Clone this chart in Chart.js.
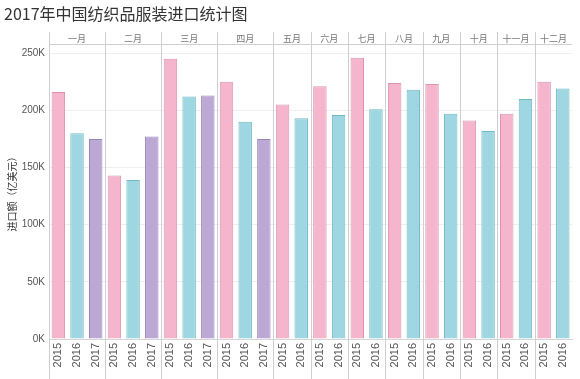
<!DOCTYPE html>
<html>
<head>
<meta charset="utf-8">
<script src="https://cdn.jsdelivr.net/npm/chart.js@4"></script>
<style>
  html, body { margin: 0; padding: 0; background: #fff; }
  #wrap { width: 580px; height: 379px; position: relative; }
</style>
</head>
<body>
<div id="wrap"><canvas id="chart"></canvas></div>
<script>
// data (values in K)
const months = ['一月', '二月', '三月', '四月', '五月', '六月', '七月', '八月', '九月', '十月', '十一月', '十二月'];
const v2015 = [216, 143, 245, 225, 205, 221, 246, 224, 223, 191, 197, 225];
const v2016 = [180, 139, 212, 190, 193, 196, 201, 218, 197, 182, 210, 219];
const v2017 = [175, 177, 213, 175];
const yTicks = [0, 50, 100, 150, 200, 250];

const yearColors = {
    '2015': ['#f5b5cc', '#dc93ae'],
    '2016': ['#9ed7e1', '#72b8c4'],
    '2017': ['#bca8d5', '#9b86ba']
};

// build flat category list
const labels = [];
const values = [];
const groupSizes = [];
months.forEach((m, i) => {
    const yrs = [['2015', v2015[i]], ['2016', v2016[i]]];
    if (i < v2017.length) yrs.push(['2017', v2017[i]]);
    yrs.forEach(y => { labels.push(y[0]); values.push(y[1]); });
    groupSizes.push(yrs.length);
});

const HEADER_TOP = 32;
const HEADER_BOTTOM = 44;

// title, month header and panel dividers
const facetPlugin = {
    id: 'facets',
    afterDraw(chart) {
        const ctx = chart.ctx;
        const xs = chart.scales.x;
        const area = chart.chartArea;
        ctx.save();
        ctx.fillStyle = '#333';
        ctx.font = '16px "Noto Sans CJK SC"';
        ctx.textBaseline = 'middle';
        ctx.textAlign = 'left';
        ctx.fillText('2017年中国纺织品服装进口统计图', 4, 14);

        ctx.strokeStyle = '#cfcfcf';
        ctx.lineWidth = 1;
        // header bottom line
        ctx.beginPath();
        ctx.moveTo(area.left, HEADER_BOTTOM + 0.5);
        ctx.lineTo(area.right, HEADER_BOTTOM + 0.5);
        ctx.stroke();

        let start = 0;
        const bounds = [area.left];
        groupSizes.forEach((n, i) => {
            const end = start + n;
            let x;
            if (end < labels.length) {
                x = (xs.getPixelForValue(end - 1) + xs.getPixelForValue(end)) / 2;
            } else {
                x = area.right;
            }
            bounds.push(x);
            start = end;
        });
        bounds.forEach((x, i) => {
            if (i === bounds.length - 1) return;
            const px = Math.round(x) + 0.5;
            ctx.beginPath();
            ctx.moveTo(px, HEADER_TOP);
            ctx.lineTo(px, chart.height);
            ctx.stroke();
        });

        ctx.fillStyle = '#777';
        ctx.font = '9px "Noto Sans CJK SC"';
        ctx.textAlign = 'center';
        months.forEach((m, i) => {
            ctx.fillText(m, (bounds[i] + bounds[i + 1]) / 2, (HEADER_TOP + HEADER_BOTTOM) / 2 + 1);
        });
        ctx.restore();
    }
};

const ctx = document.getElementById('chart').getContext('2d');
const chart = new Chart(ctx, {
    type: 'bar',
    data: {
        labels: labels,
        datasets: [{
            data: values,
            backgroundColor: labels.map(y => yearColors[y][0]),
            borderColor: labels.map(y => yearColors[y][1]),
            borderWidth: 1,
            categoryPercentage: 1,
            barPercentage: 0.72
        }]
    },
    options: {
        responsive: true,
        maintainAspectRatio: false,
        animation: false,
        layout: { padding: { top: HEADER_BOTTOM, right: 0, left: 0, bottom: 0 } },
        plugins: {
            legend: { display: false },
            tooltip: { enabled: false }
        },
        scales: {
            x: {
                offset: true,
                grid: { display: false, drawTicks: false },
                border: { color: '#d5d5d5' },
                ticks: {
                    autoSkip: false,
                    minRotation: 90,
                    maxRotation: 90,
                    padding: 4,
                    color: '#555',
                    font: { family: 'Liberation Sans', size: 11 }
                },
                afterFit(scale) { scale.height = 40; }
            },
            y: {
                min: 0,
                max: 258,
                afterBuildTicks(scale) {
                    scale.ticks = yTicks.map(v => ({ value: v }));
                },
                grid: { color: '#efefef', drawTicks: false },
                border: { display: false },
                ticks: {
                    padding: 4,
                    color: '#555',
                    font: { family: 'Liberation Sans', size: 10 },
                    callback: v => v + 'K'
                },
                title: {
                    display: true,
                    text: '进口额（亿美元）',
                    color: '#333',
                    padding: { top: 6, bottom: 0 },
                    font: { family: 'Noto Sans CJK SC', size: 10 }
                },
                afterFit(scale) { scale.width = 49; }
            }
        }
    },
    plugins: [facetPlugin]
});
</script>
</body>
</html>
